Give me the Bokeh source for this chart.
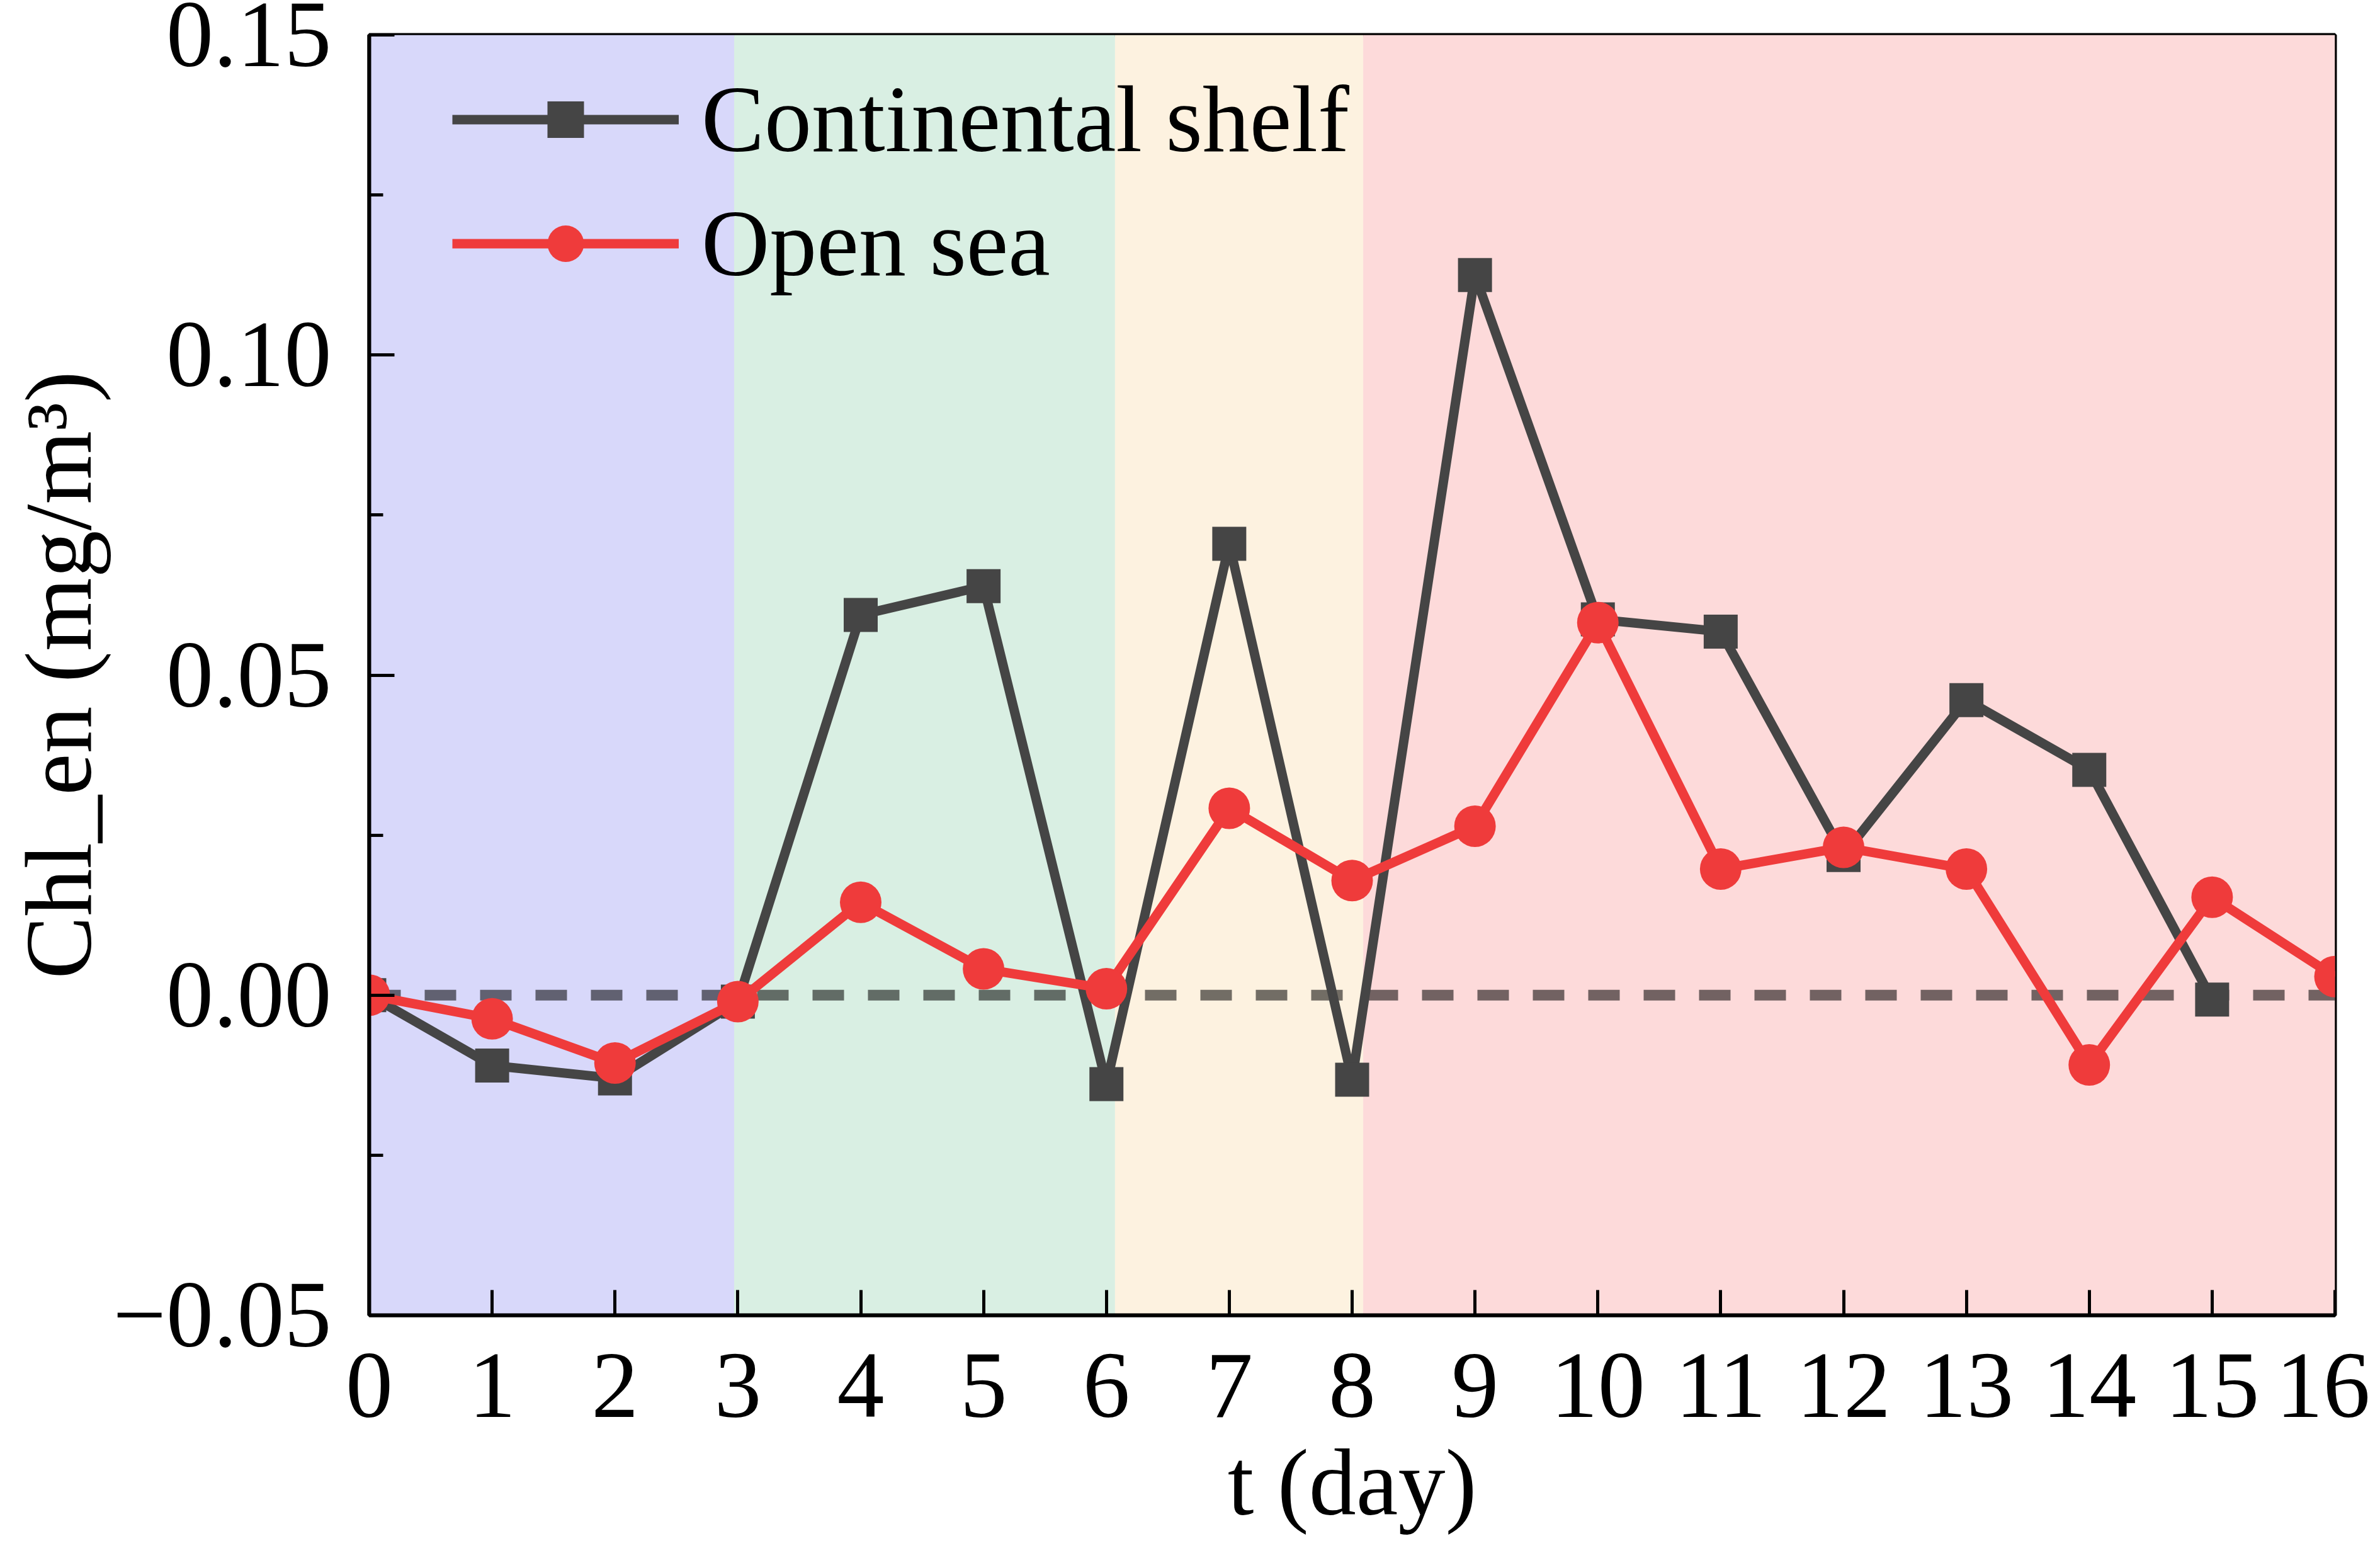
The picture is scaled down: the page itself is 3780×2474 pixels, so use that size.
from bokeh.plotting import figure
from bokeh.models import Range1d, FixedTicker, CustomJSTickFormatter, Legend, LegendItem
from bokeh.embed import file_html
from bokeh.resources import INLINE

# ---- data ----
t_shelf = list(range(16))
shelf = [0.0, -0.011, -0.013, -0.001, 0.0594, 0.0639, -0.0139, 0.0705, -0.0132,
         0.1125, 0.0587, 0.0568, 0.0219, 0.0461, 0.0352, -0.0007]
t_open = list(range(17))
open_sea = [0.0, -0.0037, -0.0106, -0.001, 0.0145, 0.0041, 0.001, 0.0292, 0.0179,
            0.0264, 0.0582, 0.0197, 0.0231, 0.0197, -0.0109, 0.0153, 0.0029]

band_left = [0, 2.97, 6.07, 8.09]
band_right = [2.97, 6.07, 8.09, 16]
band_colors = ["#d8d8fa", "#d9efe3", "#fdf2e0", "#fddada"]

x_lo, x_hi = 0, 16
y_lo, y_hi = -0.05, 0.15
x_ticks = list(range(17))
x_tick_labels = [str(i) for i in x_ticks]
y_ticks = [-0.05, 0.0, 0.05, 0.10, 0.15]
y_tick_labels = ["\u22120.05", "0.00", "0.05", "0.10", "0.15"]
y_minor = [-0.025, 0.025, 0.075, 0.125]

FONT = "Liberation Serif"
BLACK_S = "#454545"
RED_S = "#ef3b3b"

p = figure(width=3764, height=2458, output_backend="svg", toolbar_location=None,
           x_range=Range1d(x_lo, x_hi), y_range=Range1d(y_lo, y_hi),
           min_border_left=586, min_border_right=56, min_border_top=55,
           min_border_bottom=370)
p.xgrid.visible = False
p.ygrid.visible = False
p.outline_line_color = "black"
p.outline_line_width = 6
p.outline_line_alpha = 1.0
p.background_fill_color = "white"
p.border_fill_color = "white"

# background bands
p.quad(left=band_left, right=band_right, bottom=y_lo, top=y_hi,
       fill_color=band_colors, line_color=None)

# zero reference line
p.line([x_lo, x_hi], [0, 0], line_color="black", line_alpha=0.55,
       line_width=17, line_dash="50 38")

r1l = p.line(t_shelf, shelf, line_color=BLACK_S, line_width=15)
r1s = p.scatter(t_shelf, shelf, marker="square", size=54,
                fill_color=BLACK_S, line_color=None)
r2l = p.line(t_open, open_sea, line_color=RED_S, line_width=15)
r2s = p.scatter(t_open, open_sea, marker="circle", size=66,
                fill_color=RED_S, line_color=None)

legend = Legend(items=[LegendItem(label="Continental shelf", renderers=[r1l, r1s]),
                       LegendItem(label="Open sea", renderers=[r2l, r2s])],
                location=(132, 1616), margin=0, padding=0,
                glyph_width=360, glyph_height=145, label_height=130,
                spacing=25, label_standoff=36,
                label_text_font=FONT, label_text_font_size="150px",
                label_text_color="black",
                background_fill_alpha=0, border_line_alpha=0)
p.add_layout(legend)

fmt_code = """
const i = tv.findIndex(v => Math.abs(v - tick) < 1e-9);
return i >= 0 ? tl[i] : "";
"""

xa = p.xaxis[0]
xa.ticker = FixedTicker(ticks=x_ticks, minor_ticks=[])
xa.formatter = CustomJSTickFormatter(args=dict(tv=x_ticks, tl=x_tick_labels), code=fmt_code)
xa.axis_label = "t (day)"
xa.major_label_text_font_size = "150px"
xa.major_label_standoff = 62
xa.axis_label_standoff = 18

ya = p.yaxis[0]
ya.ticker = FixedTicker(ticks=y_ticks, minor_ticks=y_minor)
ya.formatter = CustomJSTickFormatter(args=dict(tv=y_ticks, tl=y_tick_labels), code=fmt_code)
ya.axis_label = "Chl_en (mg/m\u00b3)"
ya.major_label_text_font_size = "150px"
ya.major_label_standoff = 60
ya.axis_label_standoff = 0

for ax in (xa, ya):
    ax.axis_line_color = "black"
    ax.axis_line_width = 6
    ax.major_tick_in = 40
    ax.major_tick_out = 0
    ax.minor_tick_in = 22
    ax.minor_tick_out = 0
    ax.major_tick_line_color = "black"
    ax.major_tick_line_width = 5
    ax.minor_tick_line_color = "black"
    ax.minor_tick_line_width = 5
    ax.major_label_text_font = FONT
    ax.major_label_text_color = "black"
    ax.axis_label_text_font = FONT
    ax.axis_label_text_font_size = "150px"
    ax.axis_label_text_font_style = "normal"
    ax.axis_label_text_color = "black"

open("out.html", "w").write(file_html(p, INLINE))
